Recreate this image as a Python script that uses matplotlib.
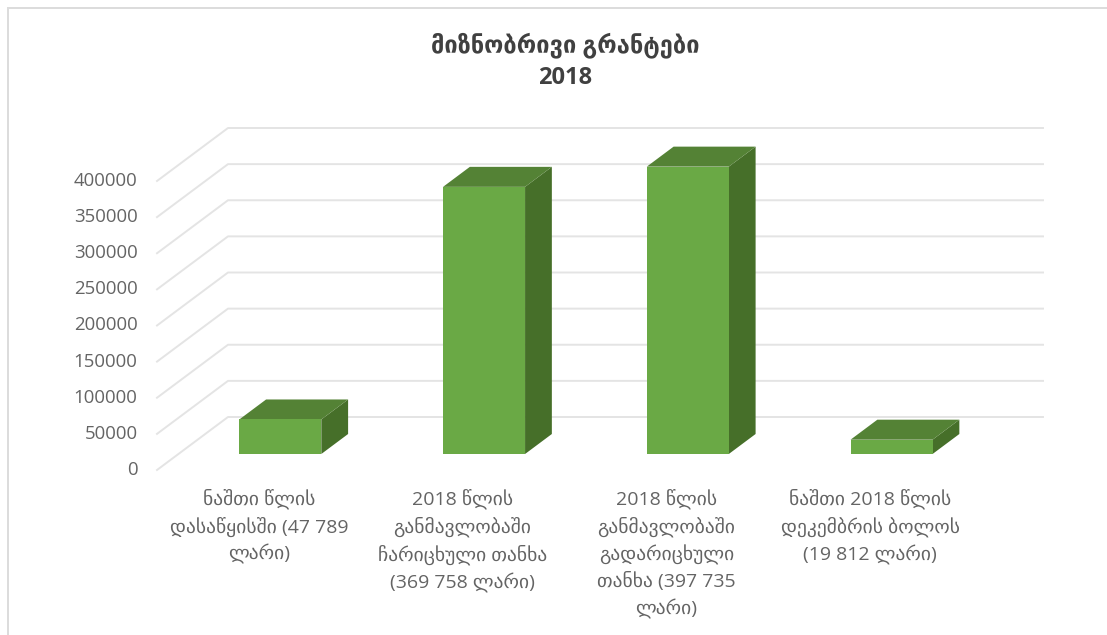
import matplotlib
matplotlib.use("Agg")
import matplotlib.pyplot as plt
from matplotlib.patches import Polygon
from matplotlib.transforms import ScaledTranslation

plt.rcParams["font.family"] = ["Open Sans", "DejaVu Sans"]

# data
title = "მიზნობრივი გრანტები\n2018"
categories = [
    "ნაშთი წლის\nდასაწყისში (47 789\nლარი)",
    "2018 წლის\nგანმავლობაში\nჩარიცხული თანხა\n(369 758 ლარი)",
    "2018 წლის\nგანმავლობაში\nგადარიცხული\nთანხა (397 735\nლარი)",
    "ნაშთი 2018 წლის\nდეკემბრის ბოლოს\n(19 812 ლარი)",
]
values = [47789, 369758, 397735, 19812]
yticks = [0, 50000, 100000, 150000, 200000, 250000, 300000, 350000, 400000]

W, H = 1107, 635
fig = plt.figure(figsize=(W / 100, H / 100), dpi=100)
# axes = front plane of the 3d box
ax = fig.add_axes([157 / W, 1 - 470 / H, 815 / W, 289 / H])
ax.set_xlim(-0.5, 3.5)
ax.set_ylim(0, 400000)
for s in ax.spines.values():
    s.set_visible(False)

# fake depth, in data units
depth_x = 71 / 203.75
depth_y = 53 / 289 * 400000


def pt(x, y, d):
    return (x + d * depth_x, y + d * depth_y)


for v in yticks:
    ax.plot(*zip(pt(-0.5, v, 0), pt(-0.5, v, 1), pt(3.5, v, 1)), color="#e4e4e4",
            lw=1.4, clip_on=False, zorder=1)

half = 41 / 203.75
d0, d1 = 16 / 53, 36 / 53
for i, v in enumerate(values):
    l, r = i - half, i + half
    front = [pt(l, 0, d0), pt(r, 0, d0), pt(r, v, d0), pt(l, v, d0)]
    top = [pt(l, v, d0), pt(r, v, d0), pt(r, v, d1), pt(l, v, d1)]
    side = [pt(r, 0, d0), pt(r, 0, d1), pt(r, v, d1), pt(r, v, d0)]
    ax.add_patch(Polygon(side, color="#466f29", lw=0, clip_on=False, zorder=2))
    ax.add_patch(Polygon(top, color="#548235", lw=0, clip_on=False, zorder=2))
    ax.add_patch(Polygon(front, color="#6aa945", lw=0, clip_on=False, zorder=3))

ax.set_yticks(yticks)
ax.set_xticks(range(4))
ax.set_xticklabels(categories, linespacing=1.49, ha="center")
ax.tick_params(axis="both", length=0, labelcolor="#646464")
ax.tick_params(axis="x", pad=13, labelsize=14)
ax.tick_params(axis="y", pad=14, labelsize=13.4)
# y labels sit a bit higher than the gridline ends
shift = ScaledTranslation(0, 2 / 100, fig.dpi_scale_trans)
for lab in ax.get_yticklabels():
    lab.set_transform(lab.get_transform() + shift)

fig.text(565 / W, 1 - 61 / H, title, ha="center", va="center", fontsize=17,
         fontweight="bold", color="#404040", linespacing=1.4)

# outer chart frame
fig.add_artist(plt.Line2D([7.5 / W, 7.5 / W], [0, 1 - 7.5 / H], color="#dcdcdc", lw=1.4))
fig.add_artist(plt.Line2D([7.5 / W, 1], [1 - 7.5 / H, 1 - 7.5 / H], color="#dcdcdc", lw=1.4))

fig.savefig("out.png", dpi=100)
